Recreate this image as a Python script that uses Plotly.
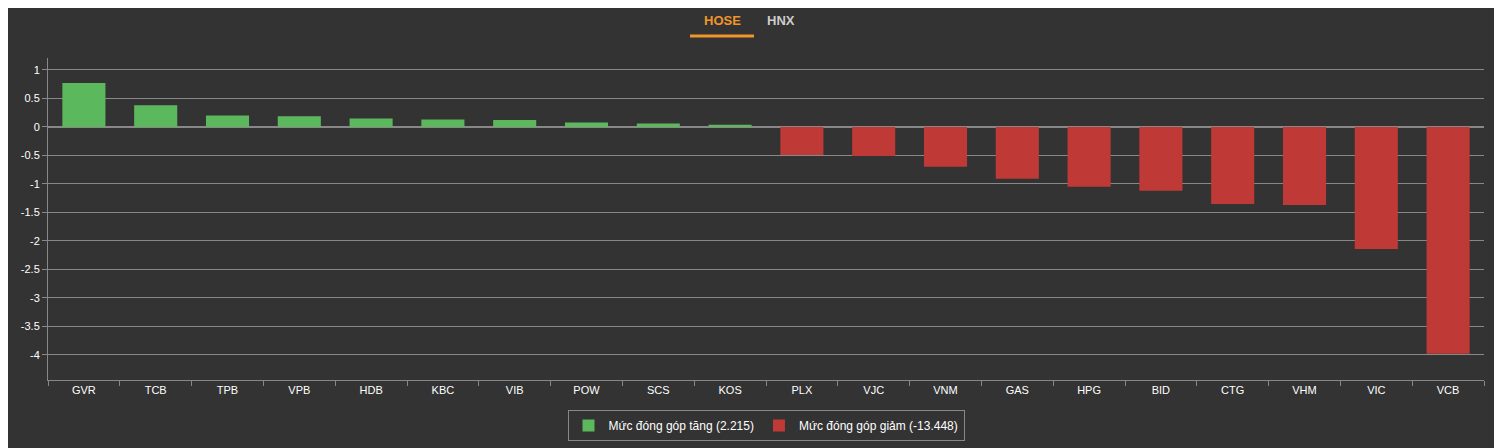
import plotly.graph_objects as go

up_names = ["GVR","TCB","TPB","VPB","HDB","KBC","VIB","POW","SCS","KOS"]
up_vals = [0.77,0.38,0.2,0.19,0.15,0.13,0.12,0.08,0.06,0.04]
down_names = ["PLX","VJC","VNM","GAS","HPG","BID","CTG","VHM","VIC","VCB"]
down_vals = [-0.49,-0.51,-0.7,-0.91,-1.05,-1.12,-1.35,-1.37,-2.14,-3.98]
ytick_vals = [1,0.5,0,-0.5,-1,-1.5,-2,-2.5,-3,-3.5,-4]

OFF = 8
W, H = 1502 - OFF, 448 - OFF
l, r, t, b = 48 - OFF, 18, 58 - OFF, 68
pw, ph = W - l - r, H - t - b

def px(x):
    return (x - OFF - l) / pw

def py(y):
    return (H - b - (y - OFF)) / ph

fig = go.Figure()
fig.add_bar(x=up_names, y=up_vals, name="Mức đóng góp tăng (2.215)", marker_color="#5cb85c",
            marker_line_width=0, width=0.6)
fig.add_bar(x=down_names, y=down_vals, name="Mức đóng góp giảm (-13.448)", marker_color="#bf3a36",
            marker_line_width=0, width=0.6)
fig.update_layout(
    width=W, height=H, paper_bgcolor="#333333", plot_bgcolor="#333333",
    margin=dict(l=l, r=r, t=t, b=b, autoexpand=False), barmode="relative",
    font=dict(family="Arial, Liberation Sans", color="white", size=11),
    legend=dict(orientation="h", x=0.5, xanchor="center", y=py(410), yanchor="top",
                bordercolor="#888", borderwidth=1, font=dict(size=12, color="white"),
                itemwidth=30, tracegroupgap=0),
    xaxis=dict(categoryorder="array", categoryarray=up_names+down_names, tickson="boundaries",
               ticks="outside", ticklen=5, tickcolor="#888", showline=True, linecolor="#888",
               tickfont=dict(size=11, color="white"), showgrid=False, automargin=False),
    yaxis=dict(range=[-4.44, 1.21], tickvals=ytick_vals, ticktext=[str(v) for v in ytick_vals],
               showgrid=True, gridcolor="#888", zeroline=True, zerolinecolor="#888",
               showline=True, linecolor="#888", ticks="outside", ticklen=5, tickcolor="#888",
               tickfont=dict(size=11, color="white"), automargin=False),
    annotations=[
        dict(text="<b>HOSE</b>", x=px(722), y=py(20), xref="paper", yref="paper", showarrow=False,
             yanchor="middle", font=dict(color="#f0952a", size=13)),
        dict(text="<b>HNX</b>", x=px(781), y=py(20), xref="paper", yref="paper", showarrow=False,
             yanchor="middle", font=dict(color="#cccccc", size=13)),
    ],
)
fig.add_shape(type="line", xref="paper", yref="paper",
              x0=px(690), x1=px(754), y0=py(36), y1=py(36),
              line=dict(color="#f0952a", width=3))
fig.write_html("out.html")
